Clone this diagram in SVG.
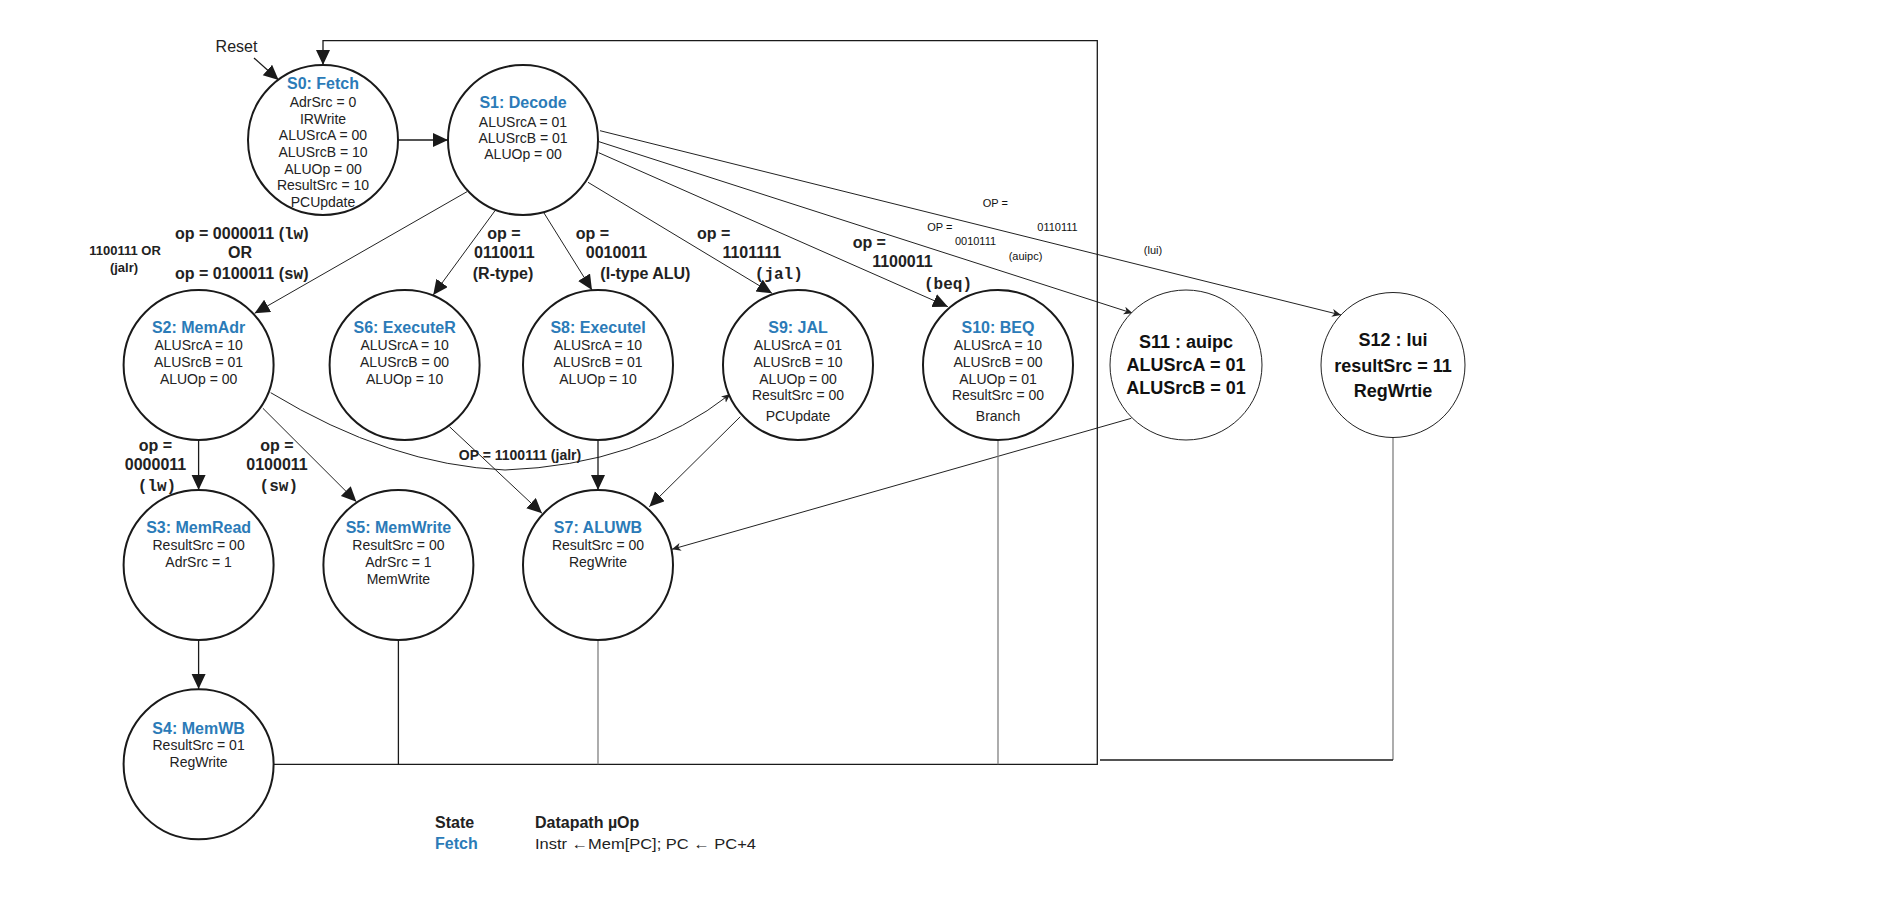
<svg xmlns="http://www.w3.org/2000/svg" width="1879" height="911" viewBox="0 0 1879 911">
<style>
.st{fill:#fff;stroke:#1a1a1a;stroke-width:2}
.thin{fill:#fff;stroke:#222;stroke-width:1}
.t{font-family:"Liberation Sans",Arial,sans-serif;font-size:14px;fill:#222;text-anchor:middle}
.h{font-weight:bold;font-size:16px;fill:#2b7bb8}
.b{font-family:"Liberation Sans",Arial,sans-serif;font-weight:bold;font-size:18px;fill:#111;text-anchor:middle}
.lb{font-family:"Liberation Sans",Arial,sans-serif;font-weight:bold;font-size:16px;fill:#222;text-anchor:middle}
.mono{font-family:"Liberation Mono","Courier New",monospace}
.sm{font-family:"Liberation Sans",Arial,sans-serif;font-size:11px;fill:#111;text-anchor:middle}
.e{fill:none;stroke:#1a1a1a;stroke-width:1.3}
.e1{fill:none;stroke:#222;stroke-width:1}
.g{fill:none;stroke:#808080;stroke-width:1.3}
.lg{font-family:"Liberation Sans",Arial,sans-serif;font-size:16px;fill:#222}
</style>
<defs>
<marker id="big" markerUnits="userSpaceOnUse" markerWidth="16" markerHeight="16" refX="15" refY="7" orient="auto"><path d="M0,0 L15,7 L0,14 z" fill="#1a1a1a"/></marker>
<marker id="sm" markerUnits="userSpaceOnUse" markerWidth="10" markerHeight="10" refX="9" refY="4" orient="auto"><path d="M0,0 L9,4 L0,8 L2.5,4 z" fill="#222"/></marker>
</defs>
<rect width="1879" height="911" fill="#fff"/>
<g id="connectors">
<path class="e" d="M254,58 L278.6,80" marker-end="url(#big)"/>
<path class="e" d="M398,140 L448,140" marker-end="url(#big)"/>
<path class="e1" d="M467,191.7 L254.6,313.3" marker-end="url(#big)"/>
<path class="e1" d="M495,210.7 L433.2,295" marker-end="url(#big)"/>
<path class="e1" d="M544,213 L592,290" marker-end="url(#big)"/>
<path class="e1" d="M588,182.3 L772,293.3" marker-end="url(#big)"/>
<path class="e1" d="M598.7,152.7 L947.9,306.7" marker-end="url(#big)"/>
<path class="e1" d="M599,141.7 L1132.7,313.3" marker-end="url(#sm)"/>
<path class="e1" d="M600,130.7 L1341,315" marker-end="url(#sm)"/>
<path class="e" d="M198.6,440 L198.6,490" marker-end="url(#big)"/>
<path class="e1" d="M262.9,408.3 L356.4,501.7" marker-end="url(#big)"/>
<path class="e1" d="M270.7,392.7 Q390,465 505,470 Q640,465 730.4,394" marker-end="url(#sm)"/>
<path class="e1" d="M449.5,426.7 L542,513.3" marker-end="url(#big)"/>
<path class="e" d="M598,440 L598,490" marker-end="url(#big)"/>
<path class="e1" d="M740.3,416.7 L649.3,506.7" marker-end="url(#big)"/>
<path class="e1" d="M1131.3,418.3 L671.9,549.3" marker-end="url(#sm)"/>
<path class="e" d="M198.6,640 L198.6,689" marker-end="url(#big)"/>
<path class="e" d="M273.6,764.3 L1097.3,764.3 L1097.3,40.7 L323,40.7 L323,65" marker-end="url(#big)"/>
<path class="e" d="M398.4,640 L398.4,764.3"/>
<path class="g" d="M598,640 L598,764.3"/>
<path class="g" d="M998,440 L998,764.3"/>
<path class="g" d="M1393,437.5 L1393,760"/>
<path class="e" d="M1393,760 L1100,760"/>
</g>
<g id="labels">
<text class="lg" x="236.5" y="52.4" text-anchor="middle">Reset</text>
<text class="lb" x="241.8" y="238.5">op = 0000011 (<tspan class="mono">lw</tspan>)</text>
<text class="lb" x="240" y="258">OR</text>
<text class="lb" x="241.8" y="279">op = 0100011 (<tspan class="mono">sw</tspan>)</text>
<text class="lb" x="125" y="254.5" style="font-size:13px">1100111 OR</text>
<text class="lb" x="124" y="271.8" style="font-size:13px">(jalr)</text>
<text class="lb" x="504" y="238.5">op =</text>
<text class="lb" x="504.3" y="258">0110011</text>
<text class="lb" x="503" y="279">(R-type)</text>
<text class="lb" x="592.5" y="238.5">op =</text>
<text class="lb" x="616.5" y="258">0010011</text>
<text class="lb" x="645.4" y="278.5">(I-type ALU)</text>
<text class="lb" x="713.6" y="238.5">op =</text>
<text class="lb" x="751.8" y="258">1101111</text>
<text class="lb mono" x="778.8" y="278.5">(jal)</text>
<text class="lb" x="869.3" y="247.5">op =</text>
<text class="lb" x="902.4" y="266.5">1100011</text>
<text class="lb mono" x="948" y="289">(beq)</text>
<text class="sm" x="995.4" y="207">OP =</text>
<text class="sm" x="1057.5" y="230.5">0110111</text>
<text class="sm" x="1153" y="254">(lui)</text>
<text class="sm" x="939.8" y="230.5">OP =</text>
<text class="sm" x="975.5" y="244.5">0010111</text>
<text class="sm" x="1025.5" y="260">(auipc)</text>
<text class="lb" x="155.5" y="450.7">op =</text>
<text class="lb" x="155.5" y="470">0000011</text>
<text class="lb mono" x="157" y="490.7">(lw)</text>
<text class="lb" x="277" y="450.7">op =</text>
<text class="lb" x="277" y="470">0100011</text>
<text class="lb mono" x="278.8" y="490.7">(sw)</text>
<text class="lb" x="520" y="460" style="font-size:14px">OP = 1100111 (jalr)</text>
</g>
<g id="S0"><circle class="st" cx="323" cy="140" r="75"/>
<text class="t h" x="323" y="89">S0: Fetch</text>
<text class="t" x="323" y="107.3">AdrSrc = 0</text>
<text class="t" x="323" y="123.6">IRWrite</text>
<text class="t" x="323" y="140.2">ALUSrcA = 00</text>
<text class="t" x="323" y="157">ALUSrcB = 10</text>
<text class="t" x="323" y="173.5">ALUOp = 00</text>
<text class="t" x="323" y="190">ResultSrc = 10</text>
<text class="t" x="323" y="206.6">PCUpdate</text></g>
<g id="S1"><circle class="st" cx="523" cy="140" r="75"/>
<text class="t h" x="523" y="108">S1: Decode</text>
<text class="t" x="523" y="126.7">ALUSrcA = 01</text>
<text class="t" x="523" y="142.5">ALUSrcB = 01</text>
<text class="t" x="523" y="159">ALUOp = 00</text></g>
<g id="S2"><circle class="st" cx="198.6" cy="365" r="75"/>
<text class="t h" x="198.6" y="333">S2: MemAdr</text>
<text class="t" x="198.6" y="350">ALUSrcA = 10</text>
<text class="t" x="198.6" y="367.3">ALUSrcB = 01</text>
<text class="t" x="198.6" y="384.3">ALUOp = 00</text></g>
<g id="S6"><circle class="st" cx="404.6" cy="365" r="75"/>
<text class="t h" x="404.6" y="333">S6: ExecuteR</text>
<text class="t" x="404.6" y="350">ALUSrcA = 10</text>
<text class="t" x="404.6" y="367.3">ALUSrcB = 00</text>
<text class="t" x="404.6" y="384.3">ALUOp = 10</text></g>
<g id="S8"><circle class="st" cx="598" cy="365" r="75"/>
<text class="t h" x="598" y="333">S8: ExecuteI</text>
<text class="t" x="598" y="350">ALUSrcA = 10</text>
<text class="t" x="598" y="367.3">ALUSrcB = 01</text>
<text class="t" x="598" y="384.3">ALUOp = 10</text></g>
<g id="S9"><circle class="st" cx="798" cy="365" r="75"/>
<text class="t h" x="798" y="333">S9: JAL</text>
<text class="t" x="798" y="350">ALUSrcA = 01</text>
<text class="t" x="798" y="367.3">ALUSrcB = 10</text>
<text class="t" x="798" y="384.3">ALUOp = 00</text>
<text class="t" x="798" y="400">ResultSrc = 00</text>
<text class="t" x="798" y="420.7">PCUpdate</text></g>
<g id="S10"><circle class="st" cx="998" cy="365" r="75"/>
<text class="t h" x="998" y="333">S10: BEQ</text>
<text class="t" x="998" y="350">ALUSrcA = 10</text>
<text class="t" x="998" y="367.3">ALUSrcB = 00</text>
<text class="t" x="998" y="384.3">ALUOp = 01</text>
<text class="t" x="998" y="400">ResultSrc = 00</text>
<text class="t" x="998" y="420.7">Branch</text></g>
<g id="S11"><ellipse class="thin" cx="1186" cy="365" rx="76" ry="75"/>
<text class="b" x="1186" y="348">S11 : auipc</text>
<text class="b" x="1186" y="370.6">ALUSrcA = 01</text>
<text class="b" x="1186" y="393.6">ALUSrcB = 01</text></g>
<g id="S12"><ellipse class="thin" cx="1393" cy="365" rx="72" ry="72.5"/>
<text class="b" x="1393" y="346.3">S12 : lui</text>
<text class="b" x="1393" y="372.3">resultSrc = 11</text>
<text class="b" x="1393" y="397">RegWrtie</text></g>
<g id="S3"><circle class="st" cx="198.6" cy="565" r="75"/>
<text class="t h" x="198.6" y="533">S3: MemRead</text>
<text class="t" x="198.6" y="550.3">ResultSrc = 00</text>
<text class="t" x="198.6" y="567.3">AdrSrc = 1</text></g>
<g id="S5"><circle class="st" cx="398.4" cy="565" r="75"/>
<text class="t h" x="398.4" y="533">S5: MemWrite</text>
<text class="t" x="398.4" y="550.3">ResultSrc = 00</text>
<text class="t" x="398.4" y="567.3">AdrSrc = 1</text>
<text class="t" x="398.4" y="584.3">MemWrite</text></g>
<g id="S7"><circle class="st" cx="598" cy="565" r="75"/>
<text class="t h" x="598" y="533">S7: ALUWB</text>
<text class="t" x="598" y="550.3">ResultSrc = 00</text>
<text class="t" x="598" y="567.3">RegWrite</text></g>
<g id="S4"><circle class="st" cx="198.6" cy="764.3" r="75"/>
<text class="t h" x="198.6" y="733.5">S4: MemWB</text>
<text class="t" x="198.6" y="750.3">ResultSrc = 01</text>
<text class="t" x="198.6" y="767.3">RegWrite</text></g>
<g id="legend">
<text class="lg" x="435" y="828" font-weight="bold">State</text>
<text class="lg" x="535" y="828" font-weight="bold">Datapath µOp</text>
<text class="lg" x="435" y="849" font-weight="bold" fill="#2b7bb8" style="fill:#2b7bb8">Fetch</text>
<text class="lg" x="535" y="849" style="font-size:15px" textLength="221" lengthAdjust="spacingAndGlyphs">Instr ←Mem[PC]; PC ← PC+4</text>
</g>
</svg>
